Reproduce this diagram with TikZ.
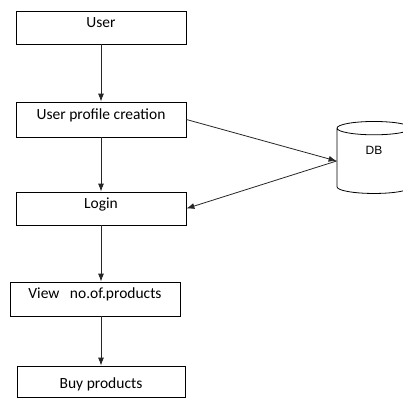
\documentclass[tikz,border=0pt]{standalone}
\usepackage{fontspec}
\setmainfont{Carlito}
\newfontfamily\dbfont{Liberation Sans}
\usetikzlibrary{shapes.geometric,arrows.meta}
\tikzset{every picture/.append style={line width=0.8pt}}

\begin{document}
\begin{tikzpicture}[x=1pt,y=-1pt]
      \tikzstyle{box}=[rectangle,draw,minimum width=170pt,minimum height=33pt,inner sep=0pt,text height=10pt,text depth=11pt,font=\fontsize{15.5}{18}\selectfont]
      \tikzstyle{store}=[cylinder,draw,shape border rotate=90,aspect=0.8,minimum width=74pt,minimum height=72pt,inner sep=0pt,text height=8pt,text depth=22pt,font=\dbfont\fontsize{12}{14}\selectfont]
      \tikzstyle{flow}=[-{Latex[length=8pt,width=6pt]},draw=black!85]
      \clip (0,0) rectangle (403,407);
      \node[box] at (101,27.5) (U) {User};
      \node[box,minimum height=35pt] at (101,119.5) (P) {User profile creation};
      \node[box] at (101,208.5) (L) {Login};
      \node[box,minimum height=34pt] at (95,299) (V) {View\ \ \ no.of.products};
      \node[box,minimum width=168pt,minimum height=31pt,text height=14pt,text depth=1pt] at (101,381.5) (B) {Buy products};
      \node[store] at (374,161) (D) {DB};
      \draw(U) edge[flow] (P);
      \draw(P) edge[flow] (L);
      \draw(L.south) edge[flow] (L.south |- V.north);
      \draw(B.north |- V.south) edge[flow] (B.north);
      \draw(P.east) edge[flow] (D.west);
      \draw(D.west) edge[flow] (L.east);
    \end{tikzpicture}
\end{document}
